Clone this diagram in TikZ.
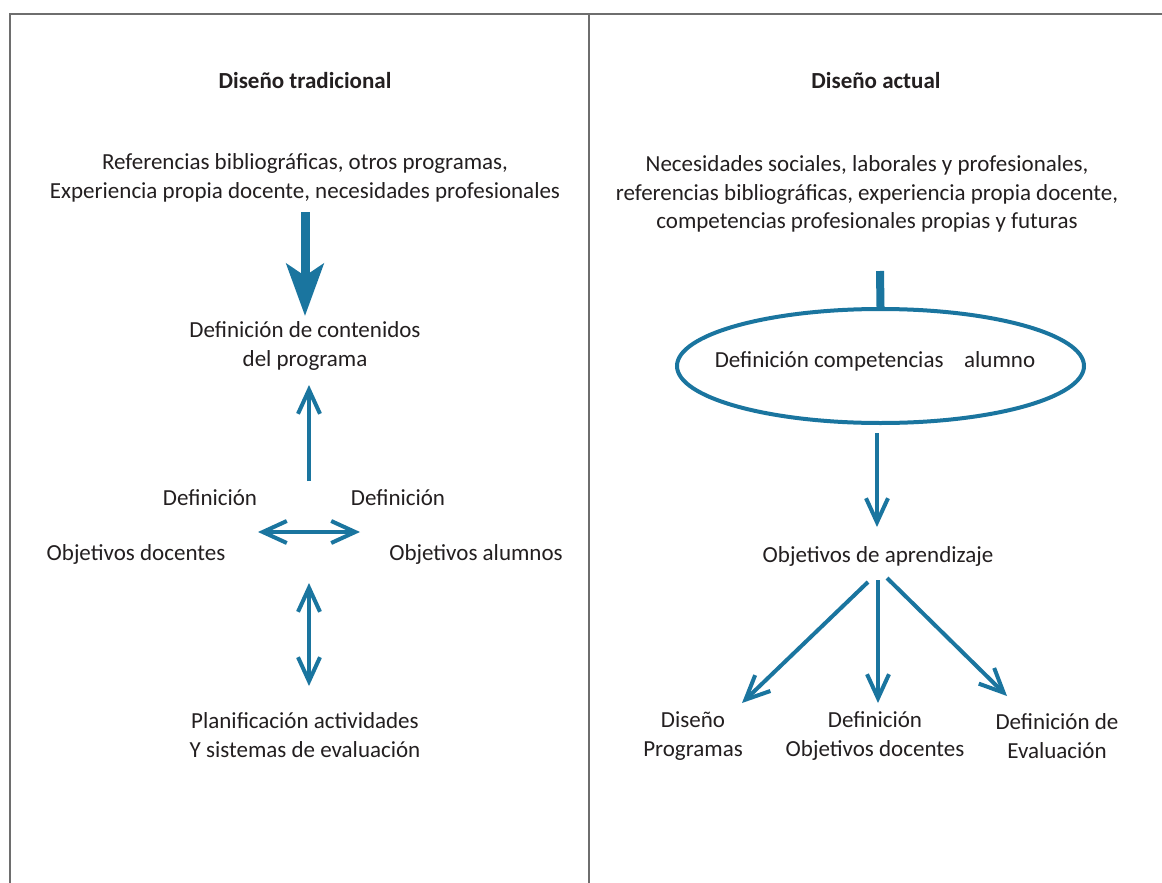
\documentclass[tikz,border=0pt]{standalone}
\usepackage{fontspec}
\setmainfont{Carlito}
\usetikzlibrary{arrows.meta,shapes.geometric}
\definecolor{flowblue}{RGB}{26,117,159}
\definecolor{ink}{RGB}{35,31,32}
\definecolor{rulegray}{RGB}{110,110,110}
\begin{document}
\begin{tikzpicture}[x=1pt,y=-1pt,
  txt/.style={align=center, text=ink, font=\fontsize{23}{28.5}\selectfont, inner sep=0pt},
  headtxt/.style={txt, font=\fontsize{23}{28.5}\selectfont\bfseries},
  flow/.style={draw=flowblue, line width=4pt, -{Straight Barb[length=24pt,width=22pt]}},
  flowboth/.style={flow, {Straight Barb[length=24pt,width=22pt]}-{Straight Barb[length=24pt,width=22pt]}},
  bigflow/.style={draw=flowblue, line width=9pt, -{Stealth[length=52pt,width=37pt,inset=12pt]}},
  framerule/.style={draw=rulegray, line width=1.5pt}]
\useasboundingbox[fill=white] (0,0) rectangle (1162,883);

% panel frame
\draw[framerule] (10,883) -- (10,14) -- (1162,14);
\draw[framerule] (589,14) -- (589,883);

% ---- left panel: traditional design ----
\node[headtxt] (hl) at (305,81) {Diseño tradicional};
\node[txt] (srcl) at (305,178) {Referencias bibliográficas, otros programas,\\Experiencia propia docente, necesidades profesionales};
\node[txt] (cont) at (305,346) {Definición de contenidos\\del programa};
\node[txt] (defl) at (210,498) {Definición};
\node[txt] (defr) at (398,498) {Definición};
\node[txt] (objd) at (136,554) {Objetivos docentes};
\node[txt] (obja) at (476,554) {Objetivos alumnos};
\node[txt] (plan) at (305,735) {Planificación actividades\\Y sistemas de evaluación};

\coordinate (bigs) at (305,212);
\coordinate (bige) at (305,316);
\draw[bigflow] (bigs) -- (bige);

\coordinate (ups) at (309,481);
\coordinate (upe) at (309,385);
\draw[flow] (ups) -- (upe);

\coordinate (hwest) at (258,532);
\coordinate (heast) at (360,532);
\draw[flowboth] (hwest) -- (heast);

\coordinate (vtop) at (309,583);
\coordinate (vbot) at (309,686);
\draw[flowboth] (vtop) -- (vbot);

% ---- right panel: current design ----
\node[headtxt] (hr) at (876,81) {Diseño actual};
\node[txt] (srcr) at (867,194) {Necesidades sociales, laborales y profesionales,\\referencias bibliográficas, experiencia propia docente,\\competencias profesionales propias y futuras};
\node[ellipse, draw=flowblue, line width=4pt, minimum width=407pt, minimum height=114pt, inner sep=0pt] (comp) at (880.5,366) {};
\node[txt] (compt) at (875,361) {Definición competencias\hspace{0.9em}alumno};
\node[txt] (obj) at (878,556) {Objetivos de aprendizaje};
\node[txt] (prog) at (693,736) {Diseño\\Programas};
\node[txt] (dobj) at (875,736) {Definición\\Objetivos docentes};
\node[txt] (eval) at (1057,736) {Definición de\\Evaluación};

\coordinate (stub) at (880,271);
\draw[flowblue, line width=8pt] (stub) -- (comp.north);

\coordinate (cs) at (877,433);
\coordinate (ce) at (877,527);
\draw[flow] (cs) -- (ce);

\coordinate (fl1) at (868,582);
\coordinate (fl2) at (742,703);
\coordinate (fm1) at (878,580);
\coordinate (fm2) at (878,703);
\coordinate (fr1) at (887,578);
\coordinate (fr2) at (1007,696);
\draw[flow] (fl1) -- (fl2);
\draw[flow] (fm1) -- (fm2);
\draw[flow] (fr1) -- (fr2);
\end{tikzpicture}
\end{document}
